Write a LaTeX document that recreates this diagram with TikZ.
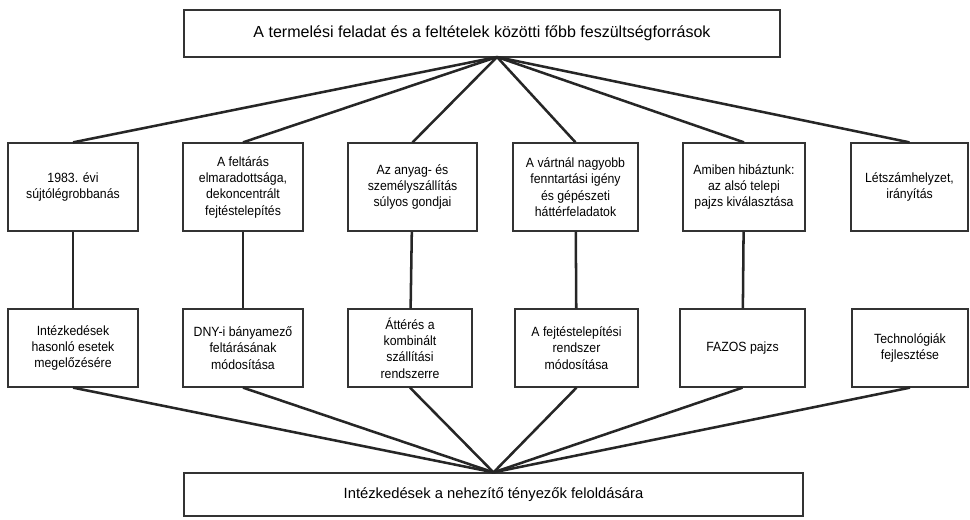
\documentclass[tikz,border=0pt]{standalone}
\usepackage{fontspec}
\setmainfont{Liberation Sans}
\newfontfamily\boxfont[FakeStretch=0.92]{Liberation Sans}

\begin{document}
\begin{tikzpicture}[x=0.025cm, y=-0.025cm,
    every node/.style={draw=black!80, line width=0.9pt, align=center, inner sep=1pt},
    upbox/.style={minimum height=2.2cm, font=\boxfont\fontsize{9.5}{11.6}\selectfont},
    lowbox/.style={minimum height=1.95cm, font=\boxfont\fontsize{9.5}{11.6}\selectfont},
    link/.style={draw=black!85, line width=1.8pt}]
    \useasboundingbox (0,0) rectangle (970,519);
    % top and bottom boxes
    \node[font=\fontsize{11.4}{13}\selectfont, minimum width=14.9cm, minimum height=1.175cm] (top) at (482,33.5) {A termelési feladat és a feltételek közötti főbb feszültségforrások};
    \node[font=\fontsize{10.5}{12}\selectfont, minimum width=15.475cm, minimum height=1.075cm] (bot) at (493.5,494.5) {Intézkedések a nehezítő tényezők feloldására};
    \coordinate (join) at (497,57);
    % upper row
    \node[upbox, minimum width=3.25cm] (u1) at (73,187) {1983. évi\\sújtólégrobbanás};
    \node[upbox, minimum width=3cm] (u2) at (243,187) {A feltárás\\elmaradottsága,\\dekoncentrált\\fejtéstelepítés};
    \node[upbox, minimum width=3.225cm] (u3) at (412.5,187) {Az anyag- és\\személyszállítás\\súlyos gondjai};
    \node[upbox, minimum width=3.125cm] (u4) at (575.5,187) {A vártnál nagyobb\\fenntartási igény\\és gépészeti\\háttérfeladatok};
    \node[upbox, minimum width=3.05cm] (u5) at (744,187) {Amiben hibáztunk:\\az alsó telepi\\pajzs kiválasztása};
    \node[upbox, minimum width=2.925cm] (u6) at (909.5,187) {Létszámhelyzet,\\irányítás};
    % lower row
    \node[lowbox, minimum width=3.25cm] (l1) at (73,348) {Intézkedések\\hasonló esetek\\megelőzésére};
    \node[lowbox, minimum width=3cm] (l2) at (243,348) {DNY-i bányamező\\feltárásának\\módosítása};
    \node[lowbox, minimum width=3.1cm] (l3) at (410,348) {Áttérés a\\kombinált\\szállítási\\rendszerre};
    \node[lowbox, minimum width=3.075cm] (l4) at (576.5,348) {A fejtéstelepítési\\rendszer\\módosítása};
    \node[lowbox, minimum width=3.125cm] (l5) at (742.5,348) {FAZOS pajzs};
    \node[lowbox, minimum width=2.9cm] (l6) at (910,348) {Technológiák\\fejlesztése};
    % connectors
    \draw[link] (join) -- (u1.north);
    \draw[link] (join) -- (u2.north);
    \draw[link] (join) -- (u3.north);
    \draw[link] (join) -- (u4.north);
    \draw[link] (join) -- (u5.north);
    \draw[link] (join) -- (u6.north);
    \draw[link] (u1) -- (l1);
    \draw[link] (u2) -- (l2);
    \draw[link] (u3) -- (l3);
    \draw[link] (u4) -- (l4);
    \draw[link] (u5) -- (l5);
    \draw[link] (l1.south) -- (bot.north);
    \draw[link] (l2.south) -- (bot.north);
    \draw[link] (l3.south) -- (bot.north);
    \draw[link] (l4.south) -- (bot.north);
    \draw[link] (l5.south) -- (bot.north);
    \draw[link] (l6.south) -- (bot.north);
\end{tikzpicture}
\end{document}
